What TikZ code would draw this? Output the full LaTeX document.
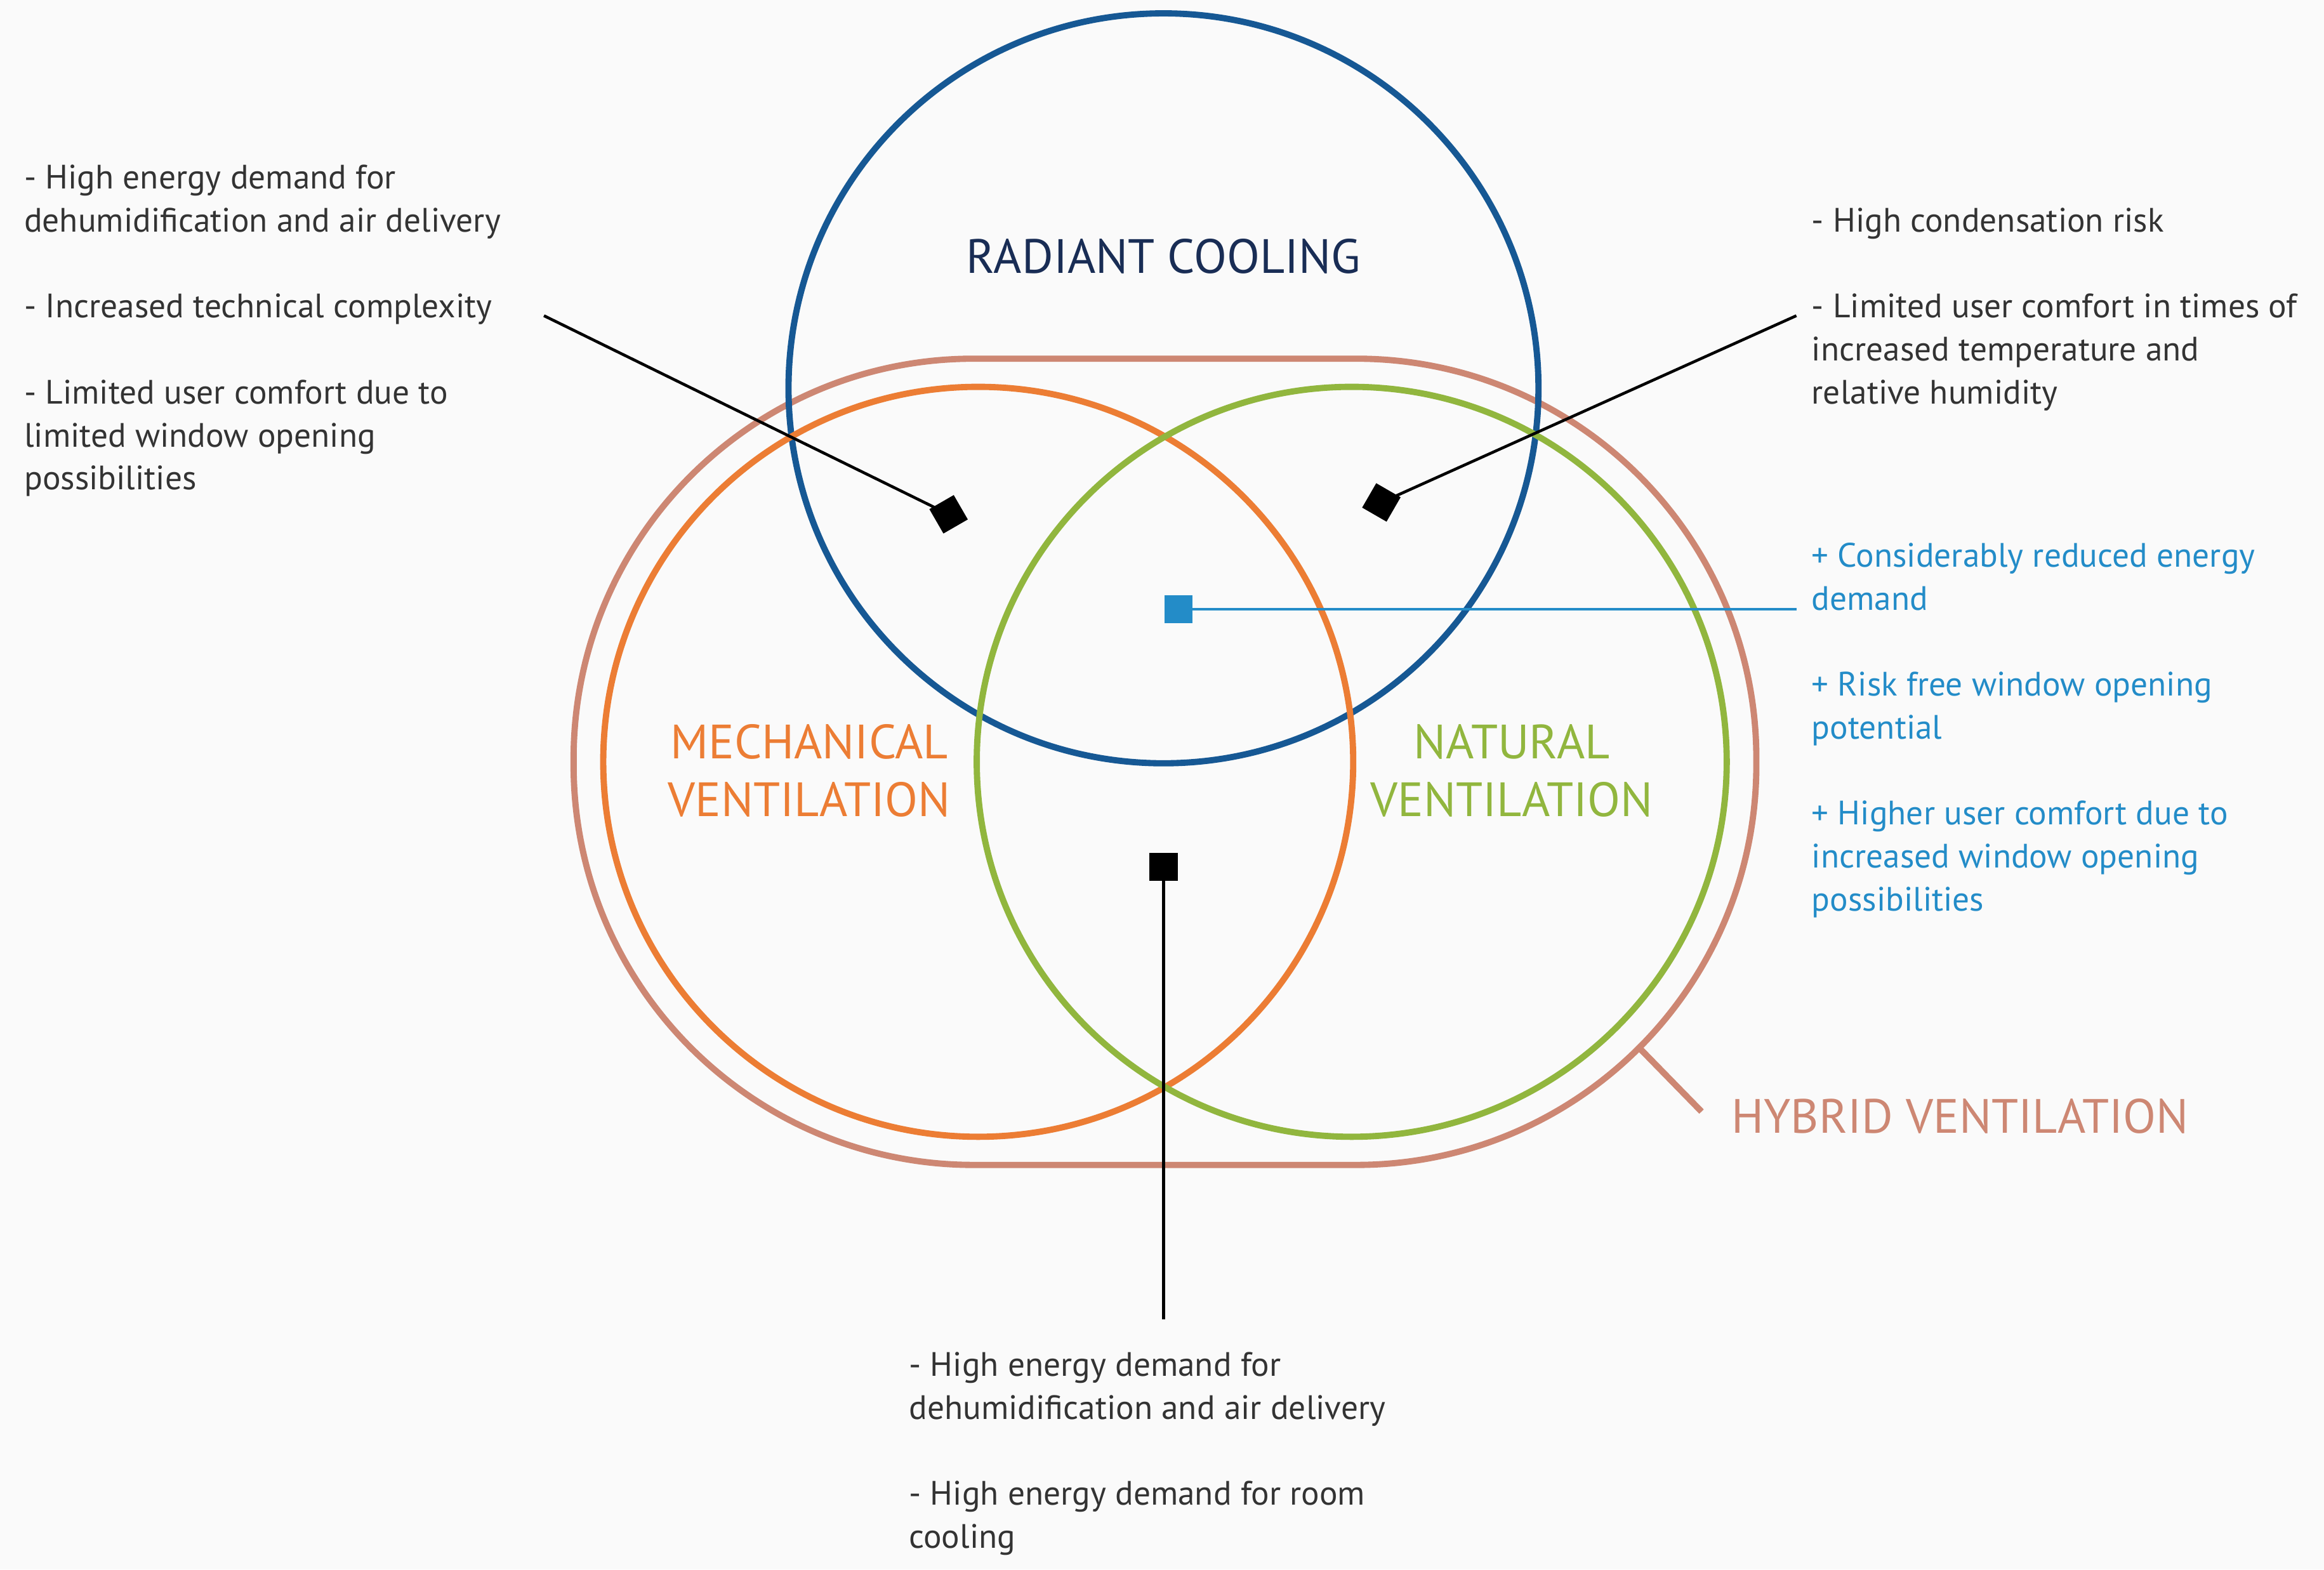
\documentclass[tikz,border=0pt]{standalone}
\usepackage{fontspec}
\setmainfont{PT Sans}
\begin{document}
\definecolor{rcblue}{RGB}{22,88,148}
\definecolor{txblue}{RGB}{35,140,200}
\definecolor{mvor}{RGB}{236,125,52}
\definecolor{nvgr}{RGB}{145,182,62}
\definecolor{hyb}{RGB}{205,135,115}
\definecolor{navy}{RGB}{25,45,85}
\begin{tikzpicture}[x=0.02cm,y=-0.02cm,
  ring/.style={line width=2.4pt},
  lbl/.style={font=\fontsize{18.5}{22}\selectfont,align=center},
  txt/.style={font=\fontsize{13}{16.5}\selectfont,align=left,anchor=north west,inner sep=0pt},
  mk/.style={draw=none,fill=black,minimum size=0.38cm,inner sep=0pt},
  con/.style={line width=1.1pt}]
\useasboundingbox (0,0) rectangle (1568,1059);
\fill[white!98!black] (0,0) rectangle (1568,1059);
\draw[ring,hyb,rounded corners=5.4cm] (387,242) rectangle (1185,786);
\draw[ring,rcblue] (785,262) circle (253);
\draw[ring,mvor] (660,514) circle (253);
\draw[ring,nvgr] (912,514) circle (253);
\coordinate (ht1) at (1105,706); \coordinate (ht2) at (1148,750);
\draw[ring,hyb] (ht1) -- (ht2);
\node[lbl,text=navy] (rc) at (785,173) {RADIANT COOLING};
\node[lbl,text=mvor] (mv) at (546,520) {MECHANICAL\\VENTILATION};
\node[lbl,text=nvgr] (nv) at (1020,520) {NATURAL\\VENTILATION};
\node[lbl,text=hyb,anchor=west] (hv) at (1162,753) {HYBRID VENTILATION};
\node[mk,rotate=30] (m1) at (640,347) {};
\node[mk,rotate=-30] (m2) at (932,339) {};
\node[mk,fill=txblue] (m3) at (795,411) {};
\node[mk] (m4) at (785,585) {};
\coordinate (e1) at (367,213); \coordinate (e2) at (1212,213);
\coordinate (e3) at (1212,411); \coordinate (e4) at (785,890);
\draw[con] (e1) -- (m1.center);
\draw[con] (e2) -- (m2.center);
\draw[con,txblue] (e3) -- (m3.center);
\draw[con] (e4) -- (m4.center);
\node[txt,text=black!80] (t1) at (16,111) {- High energy demand for\\dehumidification and air delivery\\[16.5pt]- Increased technical complexity\\[16.5pt]- Limited user comfort due to\\limited window opening\\possibilities};
\node[txt,text=black!80] (t2) at (1222,140) {- High condensation risk\\[16.5pt]- Limited user comfort in times of\\increased temperature and\\relative humidity};
\node[txt,text=txblue] (t3) at (1222,366) {+ Considerably reduced energy\\demand\\[16.5pt]+ Risk free window opening\\potential\\[16.5pt]+ Higher user comfort due to\\increased window opening\\possibilities};
\node[txt,text=black!80] (t4) at (613,912) {- High energy demand for\\dehumidification and air delivery\\[16.5pt]- High energy demand for room\\cooling};
\end{tikzpicture}
\end{document}
